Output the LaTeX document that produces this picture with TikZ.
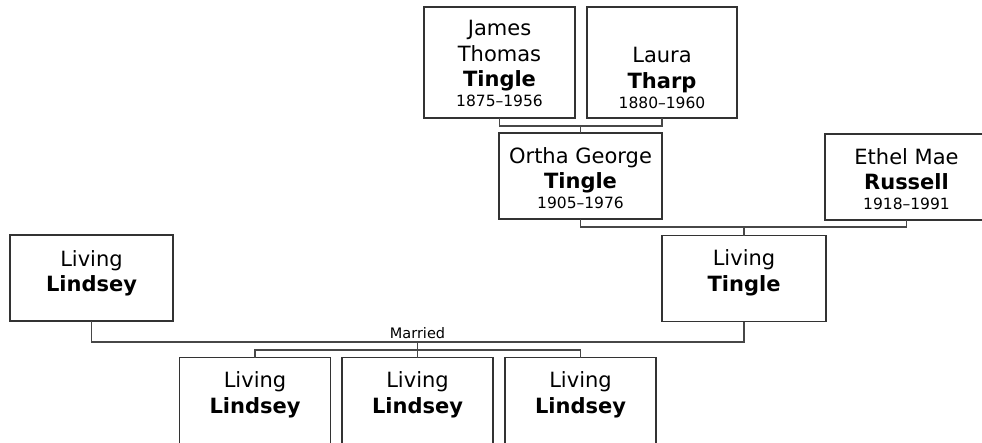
\documentclass[tikz,border=0pt]{standalone}
\usepackage{fontspec}
\setmainfont{DejaVu Sans}
\usetikzlibrary{positioning,calc}
\tikzset{
  person/.style={draw=black!80, line width=1.7pt, inner sep=0pt, outer sep=0pt, minimum height=86pt},
  persontext/.style={anchor=north, inner sep=0pt, align=center, font=\fontsize{21}{25.5}\selectfont},
  link/.style={draw=black!72, line width=1.9pt},
}
\newcommand{\lifespan}[1]{{\fontsize{15.5}{18}\selectfont #1}}

\begin{document}
\begin{tikzpicture}[x=1pt,y=-1pt]
    \clip (0,0) rectangle (982,442);

    % boxes
    \node[person, minimum width=151pt, minimum height=111pt] (jt) at (499.5,62.5) {};
    \node[person, minimum width=150pt, minimum height=111pt] (lt) at (662,62.5) {};
    \node[person, minimum width=163pt] (og) at (580.5,176) {};
    \node[person, minimum width=163pt] (em) at (906.5,177) {};
    \node[person, minimum width=163pt] (ll) at (91.5,278) {};
    \node[person, minimum width=164pt] (ltg) at (744,278.5) {};
    \foreach \i/\x in {1/255,2/417.5,3/580.5}
      \node[person, minimum width=151pt] (c\i) at (\x,400.5) {};

    % names
    \node[persontext] (jt-n) at ([yshift=-13pt]jt.north) {James\\Thomas\\\textbf{Tingle}\\[-5.5pt]\lifespan{1875--1956}};
    \node[persontext] (lt-n) at ([yshift=-40pt]lt.north) {Laura\\\textbf{Tharp}\\[-5.5pt]\lifespan{1880--1960}};
    \node[persontext] (og-n) at ([yshift=-14pt]og.north) {Ortha George\\\textbf{Tingle}\\[-5.5pt]\lifespan{1905--1976}};
    \node[persontext] (em-n) at ([yshift=-14pt]em.north) {Ethel Mae\\\textbf{Russell}\\[-5.5pt]\lifespan{1918--1991}};
    \node[persontext] (ll-n) at ([yshift=-15pt]ll.north) {Living\\\textbf{Lindsey}};
    \node[persontext] (ltg-n) at ([yshift=-14pt]ltg.north) {Living\\\textbf{Tingle}};
    \foreach \i in {1,2,3}
      \node[persontext] (c\i-n) at ([yshift=-14pt]c\i.north) {Living\\\textbf{Lindsey}};

    % connectors
    \draw[link] (jt.south) -- ++(0,8) coordinate (jtb) -| (lt.south);
    \draw[link] (og.north) -- (og.north |- jtb);
    \draw[link] (og.south) -- ++(0,8) coordinate (ogb) -| (em.south);
    \draw[link] (ltg.north) -- (ltg.north |- ogb);
    \draw[link] (ll.south) -- ++(0,21) coordinate (llb) -| (ltg.south);
    \node[inner sep=0pt, above=3.5pt, font=\fontsize{14.5}{17}\selectfont] (mar) at (c2.north |- llb) {Married};
    \draw[link] (c1.north) -- ++(0,-7.5) coordinate (c1t) -| (c3.north);
    \draw[link] (c2.north |- llb) -- (c2.north);
  \end{tikzpicture}
\end{document}
